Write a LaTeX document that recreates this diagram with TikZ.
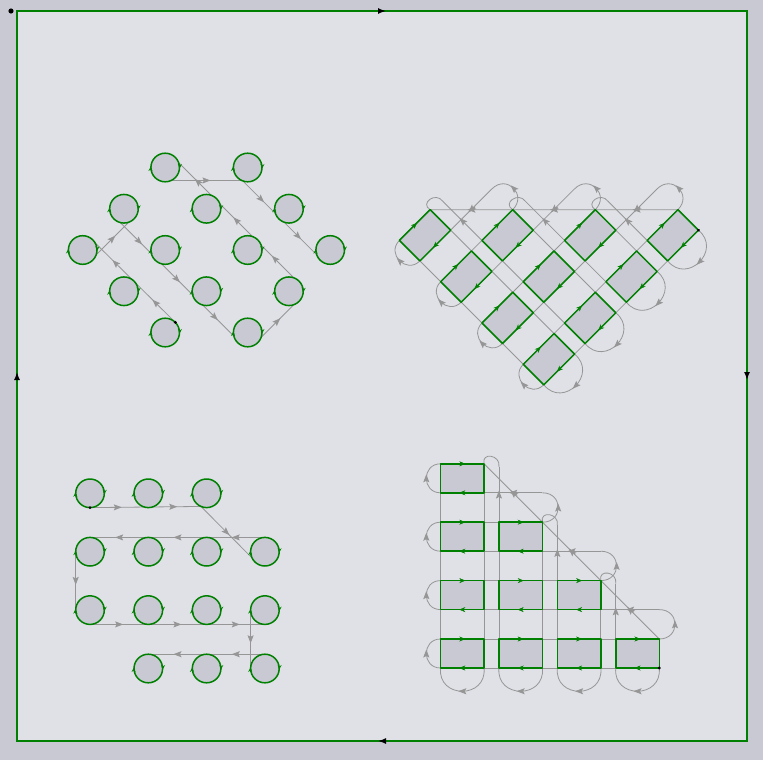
\documentclass[tikz,border=0pt]{standalone}
\usetikzlibrary{arrows.meta,decorations.markings}
\definecolor{outgray}{RGB}{200,201,211}
\definecolor{sheetgray}{RGB}{224,225,230}
\definecolor{partgray}{RGB}{200,201,210}
\definecolor{cutgreen}{RGB}{0,128,0}
\definecolor{rapidgray}{RGB}{150,150,150}
\pgfdeclarelayer{backdrop}
\pgfdeclarelayer{rapids}
\pgfsetlayers{backdrop,rapids,main}
\begin{document}
\begin{tikzpicture}[x=1pt,y=-1pt,line join=round,line cap=round,
    hole/.style={circle,draw=cutgreen,fill=partgray,line width=1.5pt,minimum size=28.6pt,inner sep=0pt,outer sep=0pt,
      postaction={decorate,decoration={markings,
        mark=at position 0.485 with {\arrowreversed{Stealth[length=5pt,width=4pt,color=cutgreen]}},
        mark=at position 0.985 with {\arrowreversed{Stealth[length=5pt,width=4pt,color=cutgreen]}}}}},
    slab/.style={rectangle,draw=cutgreen,fill=partgray,line width=1.5pt,minimum width=43.5pt,minimum height=29pt,inner sep=0pt,outer sep=0pt},
    edgetip/.style={postaction={decorate,decoration={markings,
        mark=at position 0.5 with {\arrow[xshift=3pt]{Stealth[length=6pt,width=5pt,color=cutgreen]}}}}},
    rapidline/.style={draw=rapidgray,line width=0.8pt},
    narrows/.style={postaction={decorate,decoration={markings,
        mark=between positions {1/(2*#1)} and 1 step {1/#1} with {\arrow[xshift=4pt]{Stealth[length=8pt,width=6pt,inset=1.5pt,color=rapidgray]}}}}}]
  \def\pitch{58.4} \def\halfw{21.75} \def\halfh{14.5} % nesting grid
  % one nest of ten slabs with its chain path
  \def\nestgrid#1{%
    \foreach \r in {0,...,3}{
      \foreach \c in {0,...,\r}{
        \node[slab] (#1\r\c) at ({\c*\pitch},{\r*\pitch}) {};
        \path[edgetip] (#1\r\c.north west) -- (#1\r\c.north east);
        \path[edgetip] (#1\r\c.south east) -- (#1\r\c.south west);
      }
    }
    \begin{pgfonlayer}{rapids}
      \foreach \r in {0,...,3}{
        \draw[rapidline] (#1\r0.north west) -- (#1\r\r.north east);
        \draw[rapidline] (#1\r0.south west) -- (#1\r\r.south east);
        \draw[rapidline,narrows=1] (#1\r0.south west) .. controls +(-19,0) and +(-19,0) .. (#1\r0.north west);
        \draw[rapidline] (#1\r\r.north east) -- (#13\r.south east);
        \draw[rapidline] (#13\r.south west) -- (#1\r\r.north west);
        \draw[rapidline,narrows=1] (#13\r.south east) .. controls +(3,31) and +(-3,31) .. (#13\r.south west);
      }
      \foreach \r [evaluate=\r as \rn using int(\r+1)] in {0,1,2}{
        \coordinate (#1a\r) at ({\rn*\pitch+\halfw},{\r*\pitch+\halfh});
        \coordinate (#1e\rn) at ({\rn*\pitch-\halfw},{\r*\pitch-\halfh+3});
        \draw[rapidline,narrows=1] (#1\rn\rn.north east) .. controls +(21,0) and +(21,0) .. (#1a\r);
        \draw[rapidline,narrows=1] (#1a\r) -- (#1\r\r.south east);
        \draw[rapidline,narrows=1] (#1\rn\rn.north west) -- (#1e\rn);
        \draw[rapidline] (#1e\rn) .. controls +(2,-12) and +(-3,-12) .. (#1\r\r.north east);
      }
      \draw[rapidline,narrows=3] (#133.north east) -- (#100.north east);
    \end{pgfonlayer}
    \fill (#133.south east) circle (1.6pt);
  }
  \useasboundingbox (0,0) rectangle (763,760);
  % sheet
  \begin{pgfonlayer}{backdrop}
    \fill[outgray] (0,0) rectangle (763,760);
    \draw[cutgreen,line width=1.4pt,fill=sheetgray,postaction={decorate,decoration={markings,
        mark=between positions 0.125 and 1 step 0.25 with {\arrow[xshift=4pt]{Latex[length=8pt,width=6pt,color=black]}}}}]
      (17,11) -- (747,11) -- (747,741) -- (17,741) -- cycle;
  \end{pgfonlayer}
  \fill (11,11) circle (2.6pt);
  % diamond of round parts
  \foreach \nm/\i/\j in {a/2/-2,b/4/-2,c/1/-1,d/3/-1,e/5/-1,f/0/0,g/2/0,h/4/0,i/6/0,j/1/1,k/3/1,l/5/1,m/2/2,n/4/2}
    \node[hole] (\nm) at ({82.7+\i*41.25},{250+\j*41.25}) {};
  \begin{pgfonlayer}{rapids}
    \draw[rapidline,narrows=2] (m.45) -- (f.30);
    \draw[rapidline,narrows=1] (f.-20) -- (c.-70);
    \draw[rapidline,narrows=3] (c.255) -- (n.195);
    \draw[rapidline,narrows=1] (n.-20) -- (l.-70);
    \draw[rapidline,narrows=3] (l.70) -- (a.20);
    \draw[rapidline,narrows=1] (a.-65) -- (b.245);
    \draw[rapidline,narrows=2] (b.250) -- (i.200);
  \end{pgfonlayer}
  \fill (m.45) circle (1.6pt);
  % tilted nest
  \begin{scope}[shift={(425,235.3)},rotate=45,transform shape]
    \nestgrid{dq}
  \end{scope}
  % rows of round parts
  \foreach \r/\c in {0/0,0/1,0/2,1/0,1/1,1/2,1/3,2/0,2/1,2/2,2/3,3/1,3/2,3/3}
    \node[hole] (s\r\c) at ({90+\c*58.3},{493.3+\r*58.4}) {};
  \begin{pgfonlayer}{rapids}
    \draw[rapidline,narrows=2] (s00.270) -- (s02.247);
    \draw[rapidline,narrows=1] (s02.247) -- (s13.206);
    \draw[rapidline,narrows=3] (s13.90) -- (s10.90);
    \draw[rapidline,narrows=1] (s10.180) -- (s20.180);
    \draw[rapidline,narrows=3] (s20.270) -- (s23.270);
    \draw[rapidline,narrows=1] (s23.180) -- (s33.180);
    \draw[rapidline,narrows=2] (s33.90) -- (s31.90);
  \end{pgfonlayer}
  \fill (s00.270) circle (1.6pt);
  % square nest
  \begin{scope}[shift={(462.3,478.3)}]
    \nestgrid{sq}
  \end{scope}
\end{tikzpicture}
\end{document}
